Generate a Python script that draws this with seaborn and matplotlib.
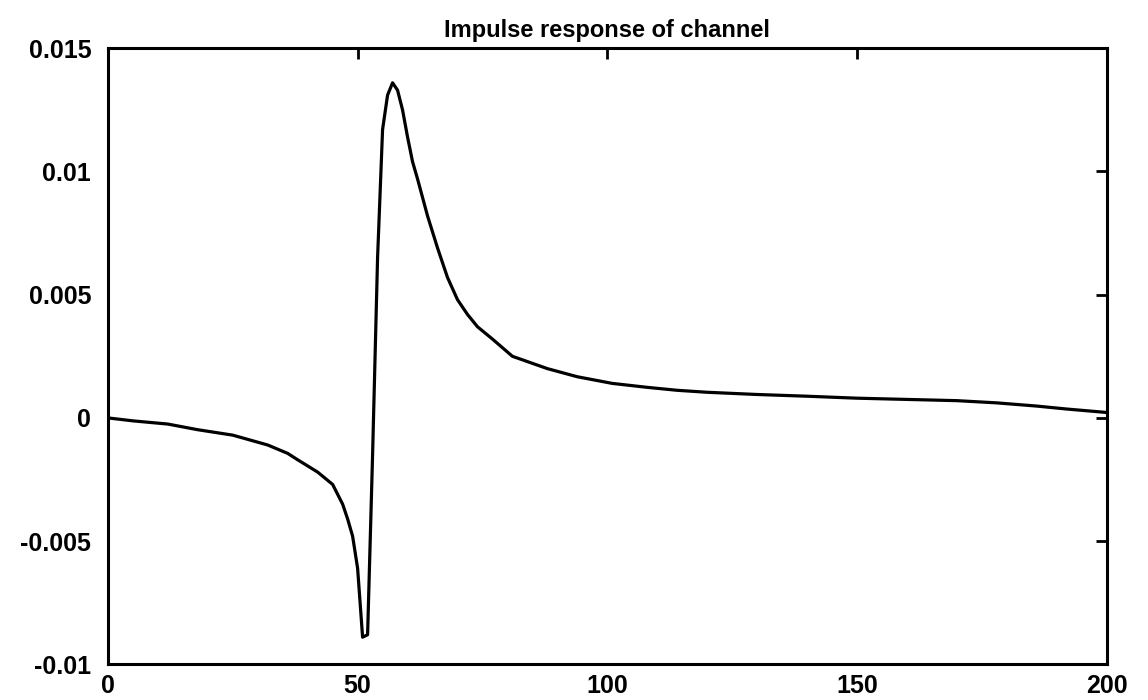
import matplotlib
matplotlib.use("Agg")
import matplotlib.pyplot as plt
import seaborn as sns
import pandas as pd

# Data
sample = [0, 5, 12, 18, 25, 32, 36, 38, 42, 45, 46, 47, 48, 49, 50, 51, 52, 53,
          54, 55, 56, 57, 58, 59, 60, 61, 62, 64, 66, 68, 70, 72, 74, 77, 81, 88, 94, 101,
          108, 114, 120, 130, 140, 150, 160, 170, 178, 186, 192, 200]
response = [0.00000, -0.00012, -0.00025, -0.00048, -0.00070, -0.00110, -0.00144, -0.00170,
            -0.00220, -0.00270, -0.00310, -0.00350, -0.00410, -0.00480, -0.00610,
            -0.00890, -0.00880, -0.00150, 0.00650, 0.01170, 0.01310, 0.01360,
            0.01330, 0.01250, 0.01140, 0.01040, 0.00970, 0.00820, 0.00690, 0.00570,
            0.00480, 0.00420, 0.00370, 0.00320, 0.00250, 0.00200, 0.00167, 0.00140,
            0.00124, 0.00112, 0.00104, 0.00095, 0.00088, 0.00080, 0.00075, 0.00070,
            0.00061, 0.00048, 0.00036, 0.00022]
x_ticks = [0, 50, 100, 150, 200]
y_ticks = [-0.01, -0.005, 0, 0.005, 0.01, 0.015]
y_tick_labels = ["-0.01", "-0.005", "0", "0.005", "0.01", "0.015"]
title = "Impulse response of channel"

df = pd.DataFrame({"n": sample, "h": response})

sns.set_style("white")
plt.rcParams["font.family"] = ["Liberation Sans", "DejaVu Sans"]
plt.rcParams["font.weight"] = "bold"
plt.rcParams["text.color"] = "black"

fig = plt.figure(figsize=(11.48, 7.0), dpi=100)
ax = fig.add_axes([0.094, 0.051, 0.870, 0.880])

sns.lineplot(data=df, x="n", y="h", ax=ax, color="black", linewidth=2.3)

ax.set_xlim(0, 200)
ax.set_ylim(-0.01, 0.015)
ax.set_xticks(x_ticks)
ax.set_xticklabels([str(t) for t in x_ticks], fontsize=18, fontweight="bold")
ax.set_yticks(y_ticks)
ax.set_yticklabels(y_tick_labels, fontsize=18, fontweight="bold")
ax.tick_params(direction="in", length=8, width=2, top=True, right=True,
               colors="black", labelcolor="black", pad=12)
ax.tick_params(axis="x", pad=7)
ax.set_xlabel("")
ax.set_ylabel("")
for s in ax.spines.values():
    s.set_visible(True)
    s.set_linewidth(2.2)
    s.set_color("black")
ax.set_title(title, fontsize=17, fontweight="bold", pad=8, color="black")

fig.savefig("out.png", dpi=100, facecolor="white")
